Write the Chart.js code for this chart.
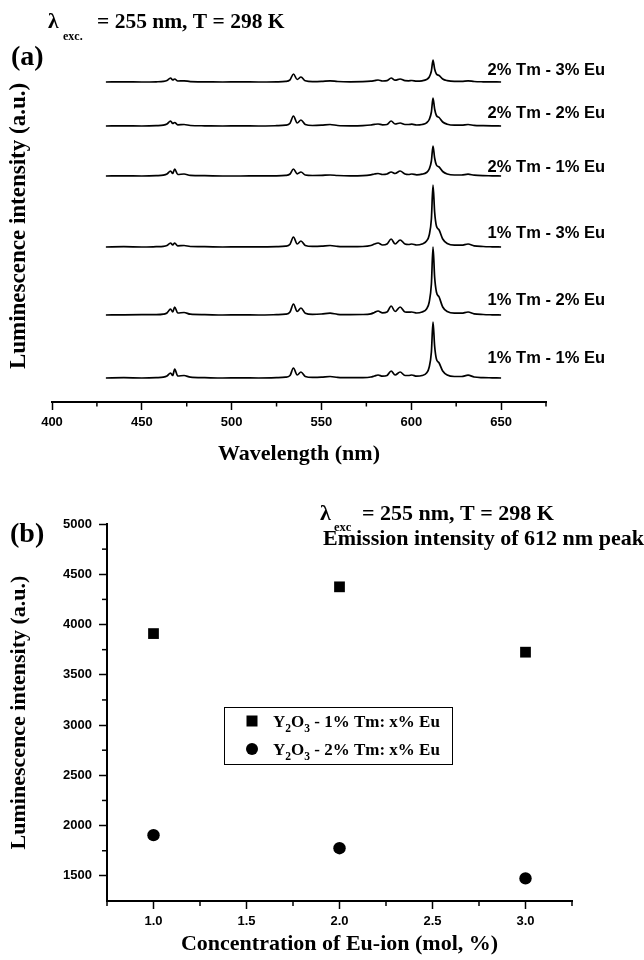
<!DOCTYPE html>
<html>
<head>
<meta charset="utf-8">
<script src="https://cdn.jsdelivr.net/npm/chart.js@4.4.1/dist/chart.umd.min.js"></script>
<style>
html,body{margin:0;padding:0;background:#fff;}
#wrap{position:relative;width:644px;height:960px;background:#fff;}
.pane{position:absolute;left:0;width:644px;height:480px;}
</style>
</head>
<body>
<div id="wrap">
  <div class="pane" style="top:0"><canvas id="ca" width="644" height="480"></canvas></div>
  <div class="pane" style="top:480px"><canvas id="cb" width="644" height="480"></canvas></div>
</div>
<script>
// ---------------- DATA: panel (a) emission spectra ----------------
const wavelengths = [430,440,450,458,462,464,466,467.2,468.3,470,473.5,477,485,495,505,515,525,530,532.5,534.4,536.5,538.6,541,545,550,554.8,559,566,573,577.5,579.5,581.5,584,586.5,588.8,591,593.8,596.5,598.5,600.3,603,606,608.5,610,611.2,612.1,613,614,615.5,617.5,620,624,628,631.6,635,640,645,650];

const seriesNames = ['1% Tm - 1% Eu','1% Tm - 2% Eu','1% Tm - 3% Eu','2% Tm - 1% Eu','2% Tm - 2% Eu','2% Tm - 3% Eu'];

const tm1eu1 = [0,0.3,0,0.3,0.8,2, 5,2.5,9,2,2.5,0.8, 0.3,0,0.2,0,0.3,0.8, 2.5,10,3,6,1.5,0.6, 0.8,1.5,0.6,0.3,0.4,1, 2,3,1.8,2.5,7,3, 6,2.5,2.5,3,1.8,2.5, 5,11,26,56,32,19, 15,7,3,1.5,1.5,2.8, 1,0.4,0.2,0];
const tm1eu2 = [0,0.2,0.3,0.3,0.8,2, 6,3,8,2,2.5,0.8, 0.4,0,0.2,0,0.3,0.8, 3,11,3.5,7,1.8,0.7, 1,1.8,0.7,0.4,0.5,1.2, 2.5,4,2.2,3,9,3.5, 8,3,2.8,3,2,3, 6,13,31,68,38,23, 18,8,3.5,1.8,1.8,3, 1.2,0.5,0.2,0];
const tm1eu3 = [0,0.3,0,0.3,0.6,1.5, 4,2,4,1.2,1.5,0.5, 0.3,0,0.2,0.1,0.3,0.8, 2.8,10,3,6,1.5,0.6, 0.8,1.5,0.6,0.3,0.5,1.5, 3,4,2,3,8,3, 7,3,2.5,3,2,3, 6,12,28,62,35,21, 17,8,3.5,1.8,1.8,3, 1.2,0.5,0.2,0];
const tm2eu1 = [0,0.2,0,0.3,0.8,2, 5,2.5,7,1.5,2,0.6, 0.3,0,0,0.2,0.2,0.6, 2,7,2.2,4,1,0.5, 0.6,1,0.5,0.2,0.4,1.2, 2,2.5,1.5,2,4,2.5, 5,2,1.5,2,1.2,1.8, 3.5,7,15,30,18,11, 9,4.5,2,1,1,1.8, 0.8,0.3,0.2,0];
const tm2eu2 = [0,0.2,0,0.3,0.8,2, 5,2.5,3.5,1.2,1.5,0.5, 0.2,0,0.1,0,0.3,0.8, 2.8,10,3,6,1.5,0.5, 0.8,1.5,0.5,0.2,0.4,1, 1.6,2,1.2,1.5,5,2, 3,1.5,1.5,1.8,1,1.5, 3.2,6.5,14,28,17,10.5, 8.5,4,1.8,0.8,0.8,1.5, 0.6,0.3,0.1,0];
const tm2eu3 = [0,0.2,0,0.2,0.6,1.5, 4,2,3,1,1.2,0.4, 0.2,0,0.1,0,0.2,0.6, 2.2,8,2.5,5,1.2,0.4, 0.6,1.2,0.5,0.2,0.3,0.8, 1.4,2,1,1.3,4,1.8, 3,1.3,1.2,1.5,0.8,1.2, 2.5,5,11,22,13,8, 6.5,3,1.4,0.6,0.6,1.2, 0.5,0.2,0.1,0];
const spectra = [tm1eu1, tm1eu2, tm1eu3, tm2eu1, tm2eu2, tm2eu3];
const stackOffsets = [24, 87, 155, 226, 276, 320];   // vertical offset of each trace (a.u.)

const xTicksA = [400,450,500,550,600,650];
const xMinorA = [425,475,525,575,625,675];

// ---------------- DATA: panel (b) 612 nm peak intensity ----------------
const euConc = [1.0, 2.0, 3.0];
const tm1Intensity = [3910, 4375, 3725];
const tm2Intensity = [1905, 1775, 1475];
const xTicksB = [1.0,1.5,2.0,2.5,3.0];
const xMinorB = [0.75,1.25,1.75,2.25,2.75,3.25];
const yTicksB = [1500,2000,2500,3000,3500,4000,4500,5000];
const yMinorB = [1750,2250,2750,3250,3750,4250,4750];

// ---------------- layout / style helpers ----------------
const SERIF = '"Liberation Serif", "Times New Roman", serif';
const SANS = '"Liberation Sans", Arial, sans-serif';
const labelXnm = 642.5;
const labelY = [44, 102, 169, 235, 289, 332];

function drawSegs(ctx, segs){
  ctx.save();
  ctx.fillStyle = '#000';
  ctx.textAlign = 'left';
  ctx.textBaseline = 'alphabetic';
  segs.forEach(g => {
    ctx.font = 'bold ' + g.size + 'px ' + (g.fam || SERIF);
    ctx.fillText(g.t, g.x, g.y);
  });
  ctx.restore();
}
function drawRich(ctx, x, y, parts, size){
  ctx.save();
  ctx.fillStyle = '#000';
  ctx.textAlign = 'left';
  ctx.textBaseline = 'alphabetic';
  let cx = x;
  parts.forEach(p => {
    const s = p.sub ? size * 0.68 : size;
    ctx.font = 'bold ' + s + 'px ' + SERIF;
    ctx.fillText(p.t, cx, y + (p.sub ? size * 0.3 : 0));
    cx += ctx.measureText(p.t).width;
  });
  ctx.restore();
}
function minorTicksX(chart, id, vals, len){
  const s = chart.scales[id], ctx = chart.ctx;
  ctx.save(); ctx.strokeStyle = '#000'; ctx.lineWidth = 1.5;
  vals.forEach(v => {
    const p = s.getPixelForValue(v);
    ctx.beginPath(); ctx.moveTo(p, s.top); ctx.lineTo(p, s.top + len); ctx.stroke();
  });
  ctx.restore();
}
function minorTicksY(chart, id, vals, len){
  const s = chart.scales[id], ctx = chart.ctx;
  ctx.save(); ctx.strokeStyle = '#000'; ctx.lineWidth = 1.5;
  vals.forEach(v => {
    const p = s.getPixelForValue(v);
    ctx.beginPath(); ctx.moveTo(s.right - len, p); ctx.lineTo(s.right, p); ctx.stroke();
  });
  ctx.restore();
}
const tickFont = {family: SANS, size: 13, weight: 'bold'};
const titleFont = {family: SERIF, size: 22, weight: 'bold'};

// ---------------- panel (a) ----------------
const annotA = {
  id: 'annotA',
  afterDraw(chart){
    const ctx = chart.ctx, xs = chart.scales.x, ys = chart.scales.y;
    minorTicksX(chart, 'x', xMinorA, 4.5);
    drawSegs(ctx, [
      {t:'λ', x:48, y:28, size:21.5},
      {t:'exc.', x:63, y:39.5, size:12},
      {t:'= 255 nm, T = 298 K', x:97, y:28, size:21.5},
      {t:'(a)', x:11, y:65, size:28}
    ]);
    ctx.save();
    ctx.fillStyle = '#000';
    ctx.font = 'bold 16.5px ' + SANS;
    ctx.textAlign = 'left';
    ctx.textBaseline = 'middle';
    seriesNames.forEach((n, i) => {
      ctx.fillText(n, xs.getPixelForValue(labelXnm), ys.getPixelForValue(labelY[i]));
    });
    ctx.restore();
  }
};

new Chart(document.getElementById('ca'), {
  type: 'line',
  data: {
    datasets: spectra.map((s, i) => ({
      label: seriesNames[i],
      data: wavelengths.map((w, j) => ({x: w, y: stackOffsets[i] + s[j]})),
      borderColor: '#000',
      borderWidth: 1.7,
      pointRadius: 0,
      fill: false,
      cubicInterpolationMode: 'monotone'
    }))
  },
  options: {
    responsive: false, animation: false, devicePixelRatio: 1,
    layout: {padding: {left: 0, right: 98, top: 50, bottom: 12}},
    plugins: {legend: {display: false}, tooltip: {enabled: false}},
    scales: {
      x: {
        type: 'linear', min: 400, max: 675, position: 'bottom',
        afterBuildTicks: s => { s.ticks = xTicksA.map(v => ({value: v})); },
        afterFit: s => { s.height = 66; s.paddingLeft = 0; s.paddingRight = 0; },
        ticks: {color: '#000', font: tickFont, padding: 5, maxRotation: 0, autoSkip: false, callback: v => String(v)},
        grid: {display: true, drawOnChartArea: false, drawTicks: true, tickLength: 8, tickWidth: 1.5, tickColor: '#000'},
        border: {display: true, color: '#000', width: 2},
        title: {display: true, text: 'Wavelength (nm)', color: '#000', font: titleFont, padding: {top: 0, bottom: 0}}
      },
      y: {
        type: 'linear', min: 0, max: 352, position: 'left',
        afterFit: s => { s.width = 52; s.paddingTop = 0; s.paddingBottom = 0; },
        ticks: {display: false},
        grid: {display: false},
        border: {display: false},
        title: {display: true, text: 'Luminescence intensity (a.u.)', color: '#000', font: {family: SERIF, size: 23, weight: 'bold'}, padding: {top: 5, bottom: 0}}
      }
    }
  },
  plugins: [annotA]
});

// ---------------- panel (b) ----------------
const legendItems = [
  {style: 'rect', parts: [{t:'Y'},{t:'2',sub:true},{t:'O'},{t:'3',sub:true},{t:' - 1% Tm: x% Eu'}]},
  {style: 'circle', parts: [{t:'Y'},{t:'2',sub:true},{t:'O'},{t:'3',sub:true},{t:' - 2% Tm: x% Eu'}]}
];
const annotB = {
  id: 'annotB',
  afterDraw(chart){
    const ctx = chart.ctx;
    minorTicksX(chart, 'x', xMinorB, 5);
    minorTicksY(chart, 'y', yMinorB, 5);
    drawSegs(ctx, [
      {t:'λ', x:320, y:40, size:22},
      {t:'exc', x:334, y:51, size:12.5},
      {t:'= 255 nm, T = 298 K', x:362, y:40, size:22},
      {t:'Emission intensity of 612 nm peak', x:323, y:65, size:22},
      {t:'(b)', x:10, y:61.5, size:28}
    ]);
    // legend
    ctx.save();
    ctx.strokeStyle = '#000'; ctx.lineWidth = 1;
    ctx.strokeRect(224.5, 227.5, 228, 57);
    ctx.fillStyle = '#000';
    const rows = [241, 269];
    legendItems.forEach((it, i) => {
      const cy = rows[i];
      if (it.style === 'rect') ctx.fillRect(252 - 5.5, cy - 5.5, 11, 11);
      else { ctx.beginPath(); ctx.arc(252, cy, 6, 0, Math.PI * 2); ctx.fill(); }
      drawRich(ctx, 273, cy + 6, it.parts, 17);
    });
    ctx.restore();
  }
};

new Chart(document.getElementById('cb'), {
  type: 'scatter',
  data: {
    datasets: [
      {label: 'Y2O3 - 1% Tm: x% Eu', data: euConc.map((c, i) => ({x: c, y: tm1Intensity[i]})),
       pointStyle: 'rect', pointRadius: 7.6, backgroundColor: '#000', borderColor: '#000', borderWidth: 0},
      {label: 'Y2O3 - 2% Tm: x% Eu', data: euConc.map((c, i) => ({x: c, y: tm2Intensity[i]})),
       pointStyle: 'circle', pointRadius: 6.2, backgroundColor: '#000', borderColor: '#000', borderWidth: 0}
    ]
  },
  options: {
    responsive: false, animation: false, devicePixelRatio: 1,
    layout: {padding: {left: 0, right: 72, top: 44, bottom: 2}},
    plugins: {legend: {display: false}, tooltip: {enabled: false}},
    scales: {
      x: {
        type: 'linear', min: 0.75, max: 3.25, position: 'bottom',
        afterBuildTicks: s => { s.ticks = xTicksB.map(v => ({value: v})); },
        afterFit: s => { s.height = 57; s.paddingLeft = 0; s.paddingRight = 0; },
        ticks: {color: '#000', font: tickFont, padding: 5, maxRotation: 0, autoSkip: false, callback: v => Number(v).toFixed(1)},
        grid: {display: true, drawOnChartArea: false, drawTicks: true, tickLength: 8, tickWidth: 1.5, tickColor: '#000'},
        border: {display: true, color: '#000', width: 2},
        title: {display: true, text: 'Concentration of Eu-ion (mol, %)', color: '#000', font: titleFont, padding: {top: 0, bottom: 0}}
      },
      y: {
        type: 'linear', min: 1250, max: 5000, position: 'left',
        afterBuildTicks: s => { s.ticks = yTicksB.map(v => ({value: v})); },
        afterFit: s => { s.width = 107; s.paddingTop = 0; s.paddingBottom = 0; },
        ticks: {color: '#000', font: tickFont, padding: 7, autoSkip: false, callback: v => String(v)},
        grid: {display: true, drawOnChartArea: false, drawTicks: true, tickLength: 8, tickWidth: 1.5, tickColor: '#000'},
        border: {display: true, color: '#000', width: 2},
        title: {display: true, text: 'Luminescence intensity (a.u.)', color: '#000', font: titleFont, padding: {top: 6, bottom: 0}}
      }
    }
  },
  plugins: [annotB]
});
</script>
</body>
</html>
